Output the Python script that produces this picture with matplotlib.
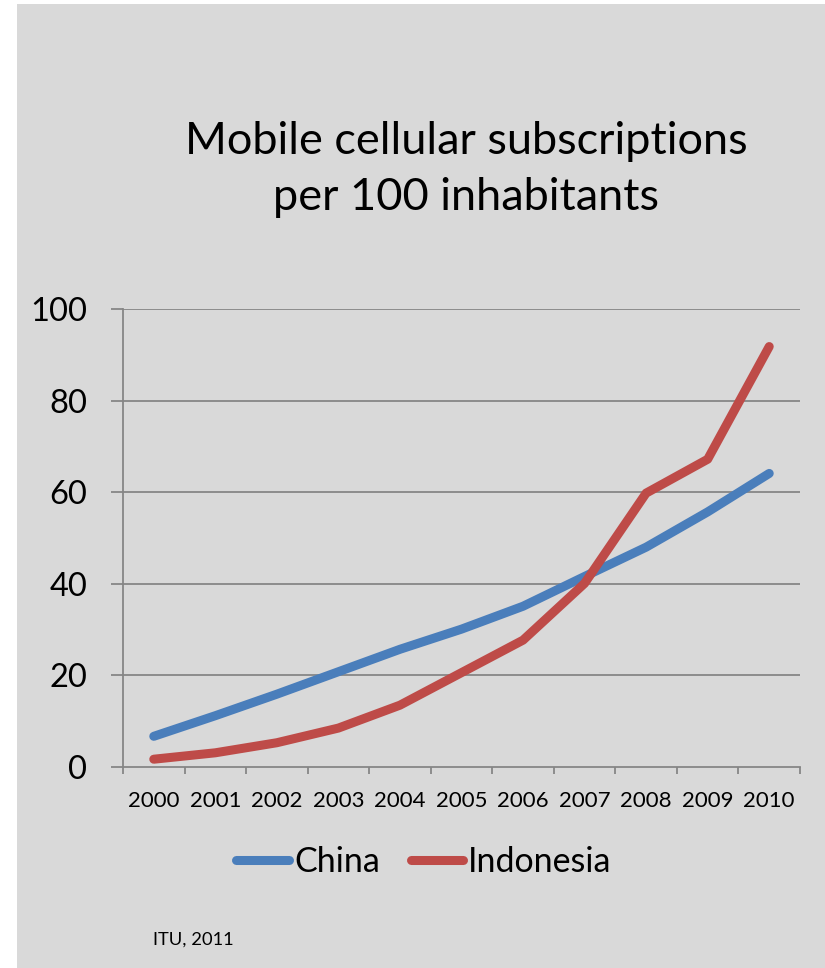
import matplotlib
matplotlib.use("Agg")
import matplotlib.pyplot as plt
from matplotlib.patches import Rectangle

years = ["2000", "2001", "2002", "2003", "2004", "2005", "2006", "2007", "2008", "2009", "2010"]
china = [6.7, 11.2, 15.9, 20.8, 25.7, 30.1, 35.1, 41.6, 48.0, 55.7, 64.1]
indonesia = [1.7, 3.1, 5.3, 8.5, 13.5, 20.6, 27.7, 40.1, 59.8, 67.2, 91.8]
yticks = [0, 20, 40, 60, 80, 100]

FONT = ["Lato", "DejaVu Sans"]
plt.rcParams["font.family"] = FONT

W, H = 825, 968
bg = "#d9d9d9"
fig = plt.figure(figsize=(W / 100, H / 100), dpi=100)
fig.patch.set_facecolor("white")
fig.patches.append(Rectangle((17 / W, 0), 1 - 17 / W, 1 - 4 / H, transform=fig.transFigure,
                             facecolor=bg, edgecolor="none", zorder=-10))

ax = fig.add_axes([123 / W, 1 - 767 / H, (800 - 123) / W, (767 - 309) / H])
ax.set_facecolor(bg)
ax.set_zorder(1)
x = list(range(len(years)))
grid_c = "#868686"
for v in yticks[1:]:
    ax.axhline(v, color=grid_c, lw=1.3, zorder=1)
l1, = ax.plot(x, china, color="#4a7ebb", lw=6.5, solid_capstyle="round", solid_joinstyle="round", zorder=3)
l2, = ax.plot(x, indonesia, color="#be4b48", lw=6.5, solid_capstyle="round", solid_joinstyle="round", zorder=3)
ax.set_xlim(-0.5, len(years) - 0.5)
ax.set_ylim(0, 100)
for s in ["top", "right"]:
    ax.spines[s].set_visible(False)
for s in ["left", "bottom"]:
    ax.spines[s].set_color(grid_c)
    ax.spines[s].set_linewidth(1.3)
ax.set_yticks(yticks)
ax.set_yticklabels([str(v) for v in yticks], fontsize=23.5)
ax.tick_params(axis="y", length=8.6, width=1.3, color=grid_c, pad=17)
ax.set_xticks([i - 0.5 for i in range(len(years) + 1)], minor=False)
ax.set_xticklabels([""] * (len(years) + 1))
ax.tick_params(axis="x", length=5, width=1.3, color=grid_c)
ax.set_xticks(x, minor=True)
ax.set_xticklabels(years, minor=True, fontsize=16)
ax.tick_params(axis="x", which="minor", length=0, pad=17)

fig.text(466 / W, 1 - 142 / H, "Mobile cellular subscriptions", ha="center", va="center", fontsize=32.5)
fig.text(466 / W, 1 - 198 / H, "per 100 inhabitants", ha="center", va="center", fontsize=32.5)

fig.legend([l1, l2], ["China", "Indonesia"], loc="center", bbox_to_anchor=(424 / W, 1 - 862 / H),
           ncol=2, frameon=False, fontsize=24.5, handlelength=1.55, handletextpad=0.15, columnspacing=0.9,
           borderpad=0, borderaxespad=0)

fig.text(153 / W, 1 - 940 / H, "ITU, 2011", ha="left", va="center", fontsize=13.2)

fig.savefig("out.png", dpi=100, facecolor=fig.get_facecolor())
